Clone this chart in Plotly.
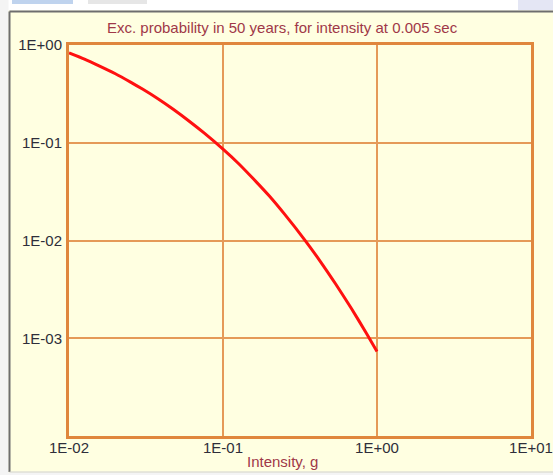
import plotly.graph_objects as go

# ---- data ----
intensity_g = [0.01, 0.0126, 0.0158, 0.02, 0.0251, 0.03, 0.0378, 0.0475, 0.0598, 0.0753,
               0.1, 0.126, 0.158, 0.2, 0.251, 0.34, 0.428, 0.539, 0.679, 0.855, 1.0]
exc_prob = [0.83, 0.717, 0.609, 0.508, 0.417, 0.354, 0.282, 0.220, 0.168, 0.126,
            0.086, 0.0614, 0.0425, 0.0285, 0.0186, 0.0101, 0.00613, 0.00359, 0.00204,
            0.00112, 0.00073]
x_tickvals = [0.01, 0.1, 1, 10]
x_ticktext = ["1E-02", "1E-01", "1E+00", "1E+01"]
y_tickvals = [0.0001, 0.001, 0.01, 0.1, 1]
y_ticktext = ["", "1E-03", "1E-02", "1E-01", "1E+00"]
title_text = "Exc. probability in 50 years, for intensity at 0.005 sec"
xaxis_title = "Intensity, g"

# ---- layout geometry (pixels) ----
W, H = 553, 475
L, R, T, B = 69, 531, 45, 436
PW, PH = R - L, B - T

def px(xp):
    return (xp - L) / PW

def py(yp):
    return (B - yp) / PH

CREAM = "#FFFFE1"
ORANGE = "#E0873D"
GRID = "#E59A58"
TXT_RED = "#A03848"
TXT = "#2E2E3A"
FONT = "Liberation Sans, Arial, sans-serif"

fig = go.Figure()
fig.add_trace(go.Scatter(x=intensity_g, y=exc_prob, mode="lines",
                         line=dict(color="#FF1010", width=3, shape="spline", smoothing=0.5),
                         showlegend=False, hoverinfo="skip"))

shapes = [
    # white window strips outside the panel
    dict(type="rect", xref="paper", yref="paper", x0=px(0), x1=px(W), y0=py(10.5), y1=py(0),
         fillcolor="#FFFFFF", line_width=0, layer="below"),
    dict(type="rect", xref="paper", yref="paper", x0=px(0), x1=px(8.5), y0=py(H), y1=py(0),
         fillcolor="#F4F4F4", line_width=0, layer="below"),
    dict(type="rect", xref="paper", yref="paper", x0=px(0), x1=px(W), y0=py(H), y1=py(472.5),
         fillcolor="#F4F4F4", line_width=0, layer="below"),
    # tabs at top
    dict(type="rect", xref="paper", yref="paper", x0=px(12), x1=px(73), y0=py(4), y1=py(0),
         fillcolor="#BFD3EE", line_width=0, layer="below"),
    dict(type="rect", xref="paper", yref="paper", x0=px(88), x1=px(147), y0=py(4), y1=py(0),
         fillcolor="#E6E6E6", line_width=0, layer="below"),
    dict(type="rect", xref="paper", yref="paper", x0=px(518), x1=px(W), y0=py(10), y1=py(0),
         fillcolor="#E4E6F4", line_width=0, layer="below"),
    # panel border
    dict(type="line", xref="paper", yref="paper", x0=px(9.5), x1=px(W), y0=py(11.5), y1=py(11.5),
         line=dict(color="#6E6E6E", width=2), layer="below"),
    dict(type="line", xref="paper", yref="paper", x0=px(9.5), x1=px(9.5), y0=py(11.5), y1=py(472),
         line=dict(color="#6E6E6E", width=2), layer="below"),
    dict(type="line", xref="paper", yref="paper", x0=px(9.5), x1=px(W), y0=py(472), y1=py(472),
         line=dict(color="#D0D0D0", width=1), layer="below"),
]

annotations = [
    dict(text=title_text, xref="paper", yref="paper", x=px(282), y=py(27),
         xanchor="center", yanchor="middle", showarrow=False,
         font=dict(family=FONT, size=15, color=TXT_RED)),
    dict(text=xaxis_title, xref="paper", yref="paper", x=px(282), y=py(461),
         xanchor="center", yanchor="middle", showarrow=False,
         font=dict(family=FONT, size=15, color=TXT_RED)),
]

fig.update_layout(
    width=W, height=H,
    margin=dict(l=L, r=W - R, t=T, b=H - B, pad=0, autoexpand=False),
    paper_bgcolor=CREAM, plot_bgcolor=CREAM,
    shapes=shapes, annotations=annotations,
    font=dict(family=FONT, size=15, color=TXT),
    xaxis=dict(type="log", range=[-2, 1], tickvals=x_tickvals, ticktext=x_ticktext,
               showgrid=True, gridcolor=GRID, gridwidth=1.5,
               showline=True, mirror=True, linecolor=ORANGE, linewidth=3,
               ticks="", ticklabelstandoff=-4, zeroline=False, automargin=False,
               tickfont=dict(family=FONT, size=15, color=TXT)),
    yaxis=dict(type="log", range=[-4, 0], tickvals=y_tickvals, ticktext=y_ticktext,
               showgrid=True, gridcolor=GRID, gridwidth=1.5,
               showline=True, mirror=True, linecolor=ORANGE, linewidth=3,
               ticks="", ticklabelstandoff=1, zeroline=False, automargin=False,
               tickfont=dict(family=FONT, size=15, color=TXT)),
)

fig.write_html("out.html", config={"displayModeBar": False},
               post_script="document.body.style.margin='0';document.body.style.padding='0';")
